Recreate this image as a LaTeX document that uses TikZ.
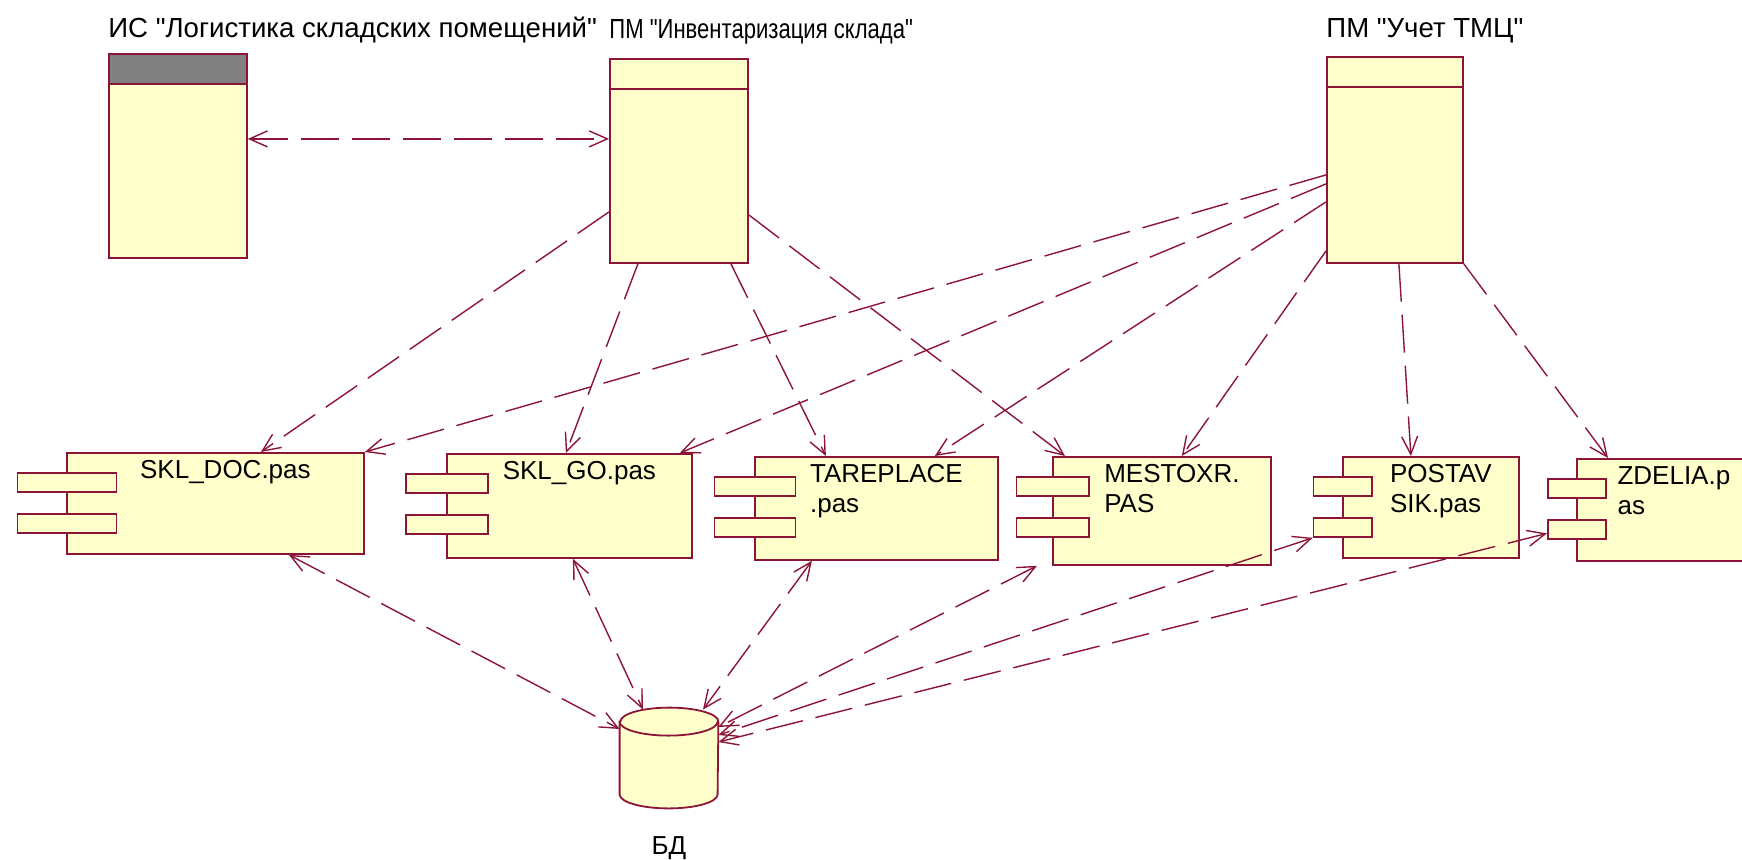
\documentclass[tikz,border=0pt]{standalone}
\usepackage{fontspec}
\setmainfont{Liberation Sans}[Ligatures=TeXOff]
\usepackage{tikz}
\usetikzlibrary{positioning,arrows.meta}

\definecolor{roseline}{RGB}{140,20,55}
\definecolor{rosefill}{RGB}{255,255,204}
\definecolor{rosehead}{RGB}{128,128,128}

\tikzset{
  pkgbox/.style={draw=roseline,fill=rosefill,line width=0.9pt,inner sep=0pt,anchor=north west},
  pkg/.style={pkgbox,
    path picture={\draw[roseline,line width=0.9pt] ([yshift=-15pt]path picture bounding box.north west) -- ([yshift=-15pt]path picture bounding box.north east);}},
  pkgdark/.style={pkgbox,
    path picture={\fill[rosehead] (path picture bounding box.north west) rectangle ([yshift=-15pt]path picture bounding box.north east);
      \draw[roseline,line width=0.9pt] ([yshift=-15pt]path picture bounding box.north west) -- ([yshift=-15pt]path picture bounding box.north east);}},
  pkgtitle/.style={anchor=base west,inner sep=0pt,font=\fontsize{13.8}{16}\selectfont},
  comp/.style={draw=roseline,fill=rosefill,line width=0.9pt,inner sep=0pt,anchor=north west},
  port/.style={comp,minimum height=9.5pt},
  comptext/.style={anchor=north,align=left,inner sep=1pt,font=\fontsize{13}{15}\selectfont},
  dbbox/.style={minimum width=49pt,minimum height=50pt,inner sep=0pt},
  dbline/.style={draw=roseline,fill=rosefill,line width=0.9pt},
  dep/.style={roseline,line width=0.7pt,dash pattern=on 19pt off 6.5pt}
}

\begin{document}
\begin{tikzpicture}[x=0.5pt,y=-0.5pt,>={Straight Barb[length=9pt,width=8pt]}]
  \useasboundingbox (0,0) rectangle (1742,859);

  % packages
  \node[pkgdark,minimum width=69pt,minimum height=102pt] (is) at (108,53) {};
  \node[pkg,minimum width=69pt,minimum height=102pt] (pminv) at (609,58) {};
  \node[pkg,minimum width=68pt,minimum height=103pt] (pmuchet) at (1326,56) {};
  \node[pkgtitle] (is-t) at (108,37) {ИС "Логистика складских помещений"};
  \node[pkgtitle] (pminv-t) at (609,38) {\scalebox{0.8}[1]{ПМ "Инвентаризация склада"}};
  \node[pkgtitle] (pmuchet-t) at (1326,37) {ПМ "Учет ТМЦ"};

  % components
  \foreach \nm/\l/\t/\w/\h/\txt in {
      skldoc/66/452/297/101/{SKL\_DOC.pas},
      sklgo/446/453/245/104/{SKL\_GO.pas},
      tareplace/754/456/243/103/{TAREPLACE\\.pas},
      mestoxr/1052/456/218/108/{MESTOXR.\\PAS},
      postavsik/1342/456/176/101/{POSTAV\\SIK.pas},
      zdelia/1576/458/174/102/{ZDELIA.p\\as}}
  {
    \node[comp,minimum width=\w*0.5pt,minimum height=\h*0.5pt] (\nm) at (\l,\t) {};
    \node[port,minimum width=\w/3*0.5pt] (\nm-p1) at (\l-\w/6,\t+20) {};
    \node[port,minimum width=\w/3*0.5pt] (\nm-p2) at (\l-\w/6,\t+61) {};
    \node[comptext] (\nm-t) at ([xshift=5pt,yshift=-3pt]\nm.north) {\txt};
  }

  % database
  \node[dbbox] (db) at (669,758) {};
  \filldraw[dbline] ([yshift=-7pt]db.north west) -- ([yshift=7pt]db.south west)
    arc[start angle=180,end angle=360,x radius=24.5pt,y radius=7pt]
    -- ([yshift=-7pt]db.north east)
    arc[start angle=0,end angle=180,x radius=24.5pt,y radius=7pt] -- cycle;
  \draw[dbline,fill=none] ([yshift=-7pt]db.north west) arc[start angle=180,end angle=360,x radius=24.5pt,y radius=7pt];
  \node[pkgtitle,anchor=north,font=\fontsize{13}{15}\selectfont,below=14pt of db] (db-t) {БД};

  % dependencies
  \draw[dep,<->] ([shift={(0,-17)}]is.east) -- ([shift={(0,-22)}]pminv.west);

  \draw[dep,->] ([shift={(0,51)}]pminv.west) -- ([shift={(45.5,0)}]skldoc.north);
  \draw[dep,->] ([shift={(-41,0)}]pminv.south) -- ([shift={(-3.5,0)}]sklgo.north);
  \draw[dep,->] ([shift={(52,0)}]pminv.south) -- ([shift={(-50.5,0)}]tareplace.north);
  \draw[dep,->] ([shift={(0,54)}]pminv.east) -- ([shift={(13,0)}]mestoxr.north west);

  \draw[dep,->] ([shift={(0,15)}]pmuchet.west) -- (skldoc.north east);
  \draw[dep,->] ([shift={(0,24)}]pmuchet.west) -- ([shift={(-13,0)}]sklgo.north east);
  \draw[dep,->] ([shift={(0,42)}]pmuchet.west) -- ([shift={(-64,0)}]tareplace.north east);
  \draw[dep,->] ([shift={(0,91)}]pmuchet.west) -- ([shift={(-90,0)}]mestoxr.north east);
  \draw[dep,->] ([shift={(4,0)}]pmuchet.south) -- ([shift={(-20,0)}]postavsik.north);
  \draw[dep,->] (pmuchet.south east) -- ([shift={(32,0)}]zdelia.north west);

  \draw[dep,<->] ([shift={(73.5,0)}]skldoc.south) -- ([shift={(0,-29)}]db.west);
  \draw[dep,<->] ([shift={(3.5,0)}]sklgo.south) -- ([shift={(-26,2)}]db.north);
  \draw[dep,<->] ([shift={(-64.5,0)}]tareplace.south) -- ([shift={(34,2)}]db.north);
  \draw[dep,<->] ([shift={(-15,0)}]mestoxr.south west) -- ([shift={(0,-31)}]db.east);
  \draw[dep,<->] (postavsik-p2.south west) -- ([shift={(0,-23)}]db.east);
  \draw[dep,<->] ([shift={(0,4)}]zdelia-p2.west) -- ([shift={(0,-16)}]db.east);
\end{tikzpicture}
\end{document}
